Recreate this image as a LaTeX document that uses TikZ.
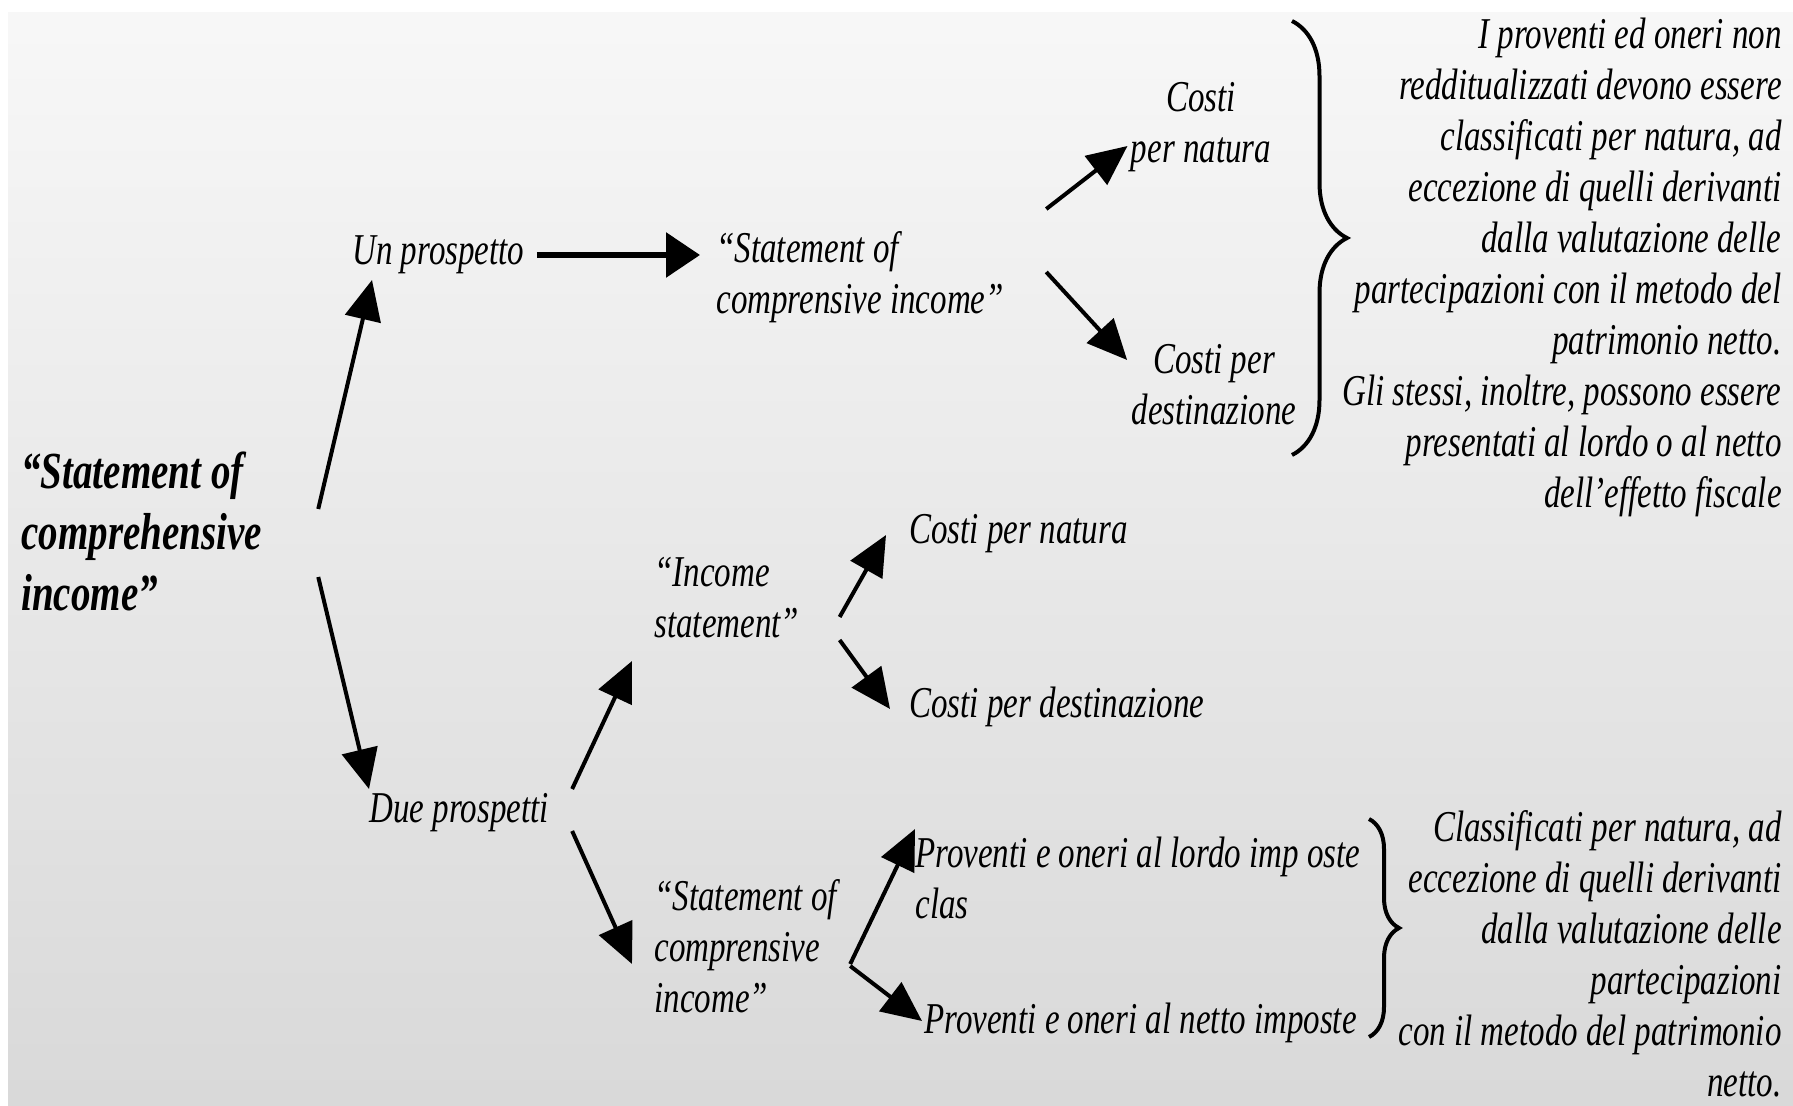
\documentclass[tikz,border=0pt]{standalone}
\usepackage{fontspec}
\setmainfont{Liberation Serif}[FakeStretch=0.75]
\usetikzlibrary{arrows.meta,positioning,decorations.pathreplacing}

\begin{document}
\begin{tikzpicture}[x=0.5pt, y=-0.5pt,
  every node/.style={font=\fontsize{22}{25.5}\selectfont\itshape, inner sep=0pt},
  lbl/.style={anchor=west, align=left},
  note/.style={anchor=east, align=right},
  arr/.style={-{Triangle[length=20pt,width=18pt]}, line width=2pt},
  bigarr/.style={-{Triangle[length=17pt,width=22pt]}, line width=3pt},
  brc/.style={decorate, decoration={brace, amplitude=#1}, line width=2pt}]
\fill[white] (0,0) rectangle (1793,1106);
\shade[top color=black!3, bottom color=black!15] (8,13) rectangle (1793,1106);
\useasboundingbox (0,0) rectangle (1793,1106);

\node[lbl, font=\fontsize{26}{30.5}\selectfont\bfseries\itshape] (main) at (21,531) {“Statement of\\comprehensive\\income”};
\node[lbl] (un) at (352,255) {Un prospetto};
\node[lbl] (stmtone) at (716,277) {“Statement of\\comprensive income”};
\node[align=center] (costinat) at (1201,127) {Costi\\per natura};
\node[align=center] (costidest) at (1214,385) {Costi per\\destinazione};
\node[note] (noteone) at (1782,267) {I proventi ed oneri non\\redditualizzati devono essere\\classificati per natura, ad\\eccezione di quelli derivanti\\dalla valutazione delle\\partecipazioni con il metodo del\\patrimonio netto.\\Gli stessi, inoltre, possono essere\\presentati al lordo o al netto\\dell’effetto fiscale};

\draw[arr] ([shift={(56,-22)}]main.east) -- ([shift={(20,25)}]un.west);
\draw[bigarr] ([shift={(12,0)}]un.east) -- ([shift={(-16,0)}]un.east -| stmtone.west);
\draw[arr] ([shift={(42,-68)}]stmtone.east) -- ([shift={(-3,19)}]costinat.west);
\draw[arr] ([shift={(42,-5)}]stmtone.east) -- ([shift={(-4,-25)}]costidest.west);
\draw[brc=27.5pt] (1292,21) -- (1292,455);

\node[lbl] (due) at (369,813) {Due prospetti};
\node[lbl] (income) at (654,598) {“Income\\statement”};
\node[lbl] (costinattwo) at (909,534) {Costi per natura};
\node[lbl] (costidesttwo) at (909,707) {Costi per destinazione};
\node[lbl] (stmttwo) at (654,946) {“Statement of\\comprensive\\income”};
\node[lbl] (lordo) at (915,878) {Proventi e oneri al lordo imp oste\\clas};
\node[lbl] (netto) at (924,1023) {Proventi e oneri al netto imposte};
\node[note] (notetwo) at (1782,954) {Classificati per natura, ad\\eccezione di quelli derivanti\\dalla valutazione delle\\partecipazioni\\con il metodo del patrimonio\\netto.};

\draw[arr] ([shift={(56,46)}]main.east) -- ([shift={(0,-24)}]due.west);
\draw[arr] ([shift={(23,-24)}]due.east) -- ([shift={(-22,63)}]income.west);
\draw[arr] ([shift={(23,18)}]due.east) -- ([shift={(-22,18)}]stmttwo.west);
\draw[arr] ([shift={(40,19)}]income.east) -- ([shift={(-23,1)}]costinattwo.west);
\draw[arr] ([shift={(40,42)}]income.east) -- ([shift={(-19,2)}]costidesttwo.west);
\draw[arr] ([shift={(13,18)}]stmttwo.east) -- ([shift={(0,-49)}]lordo.west);
\draw[arr] ([shift={(13,20)}]stmttwo.east) -- ([shift={(-2,-2)}]netto.west);
\draw[brc=15pt] (1369,819) -- (1369,1037);
\end{tikzpicture}
\end{document}
